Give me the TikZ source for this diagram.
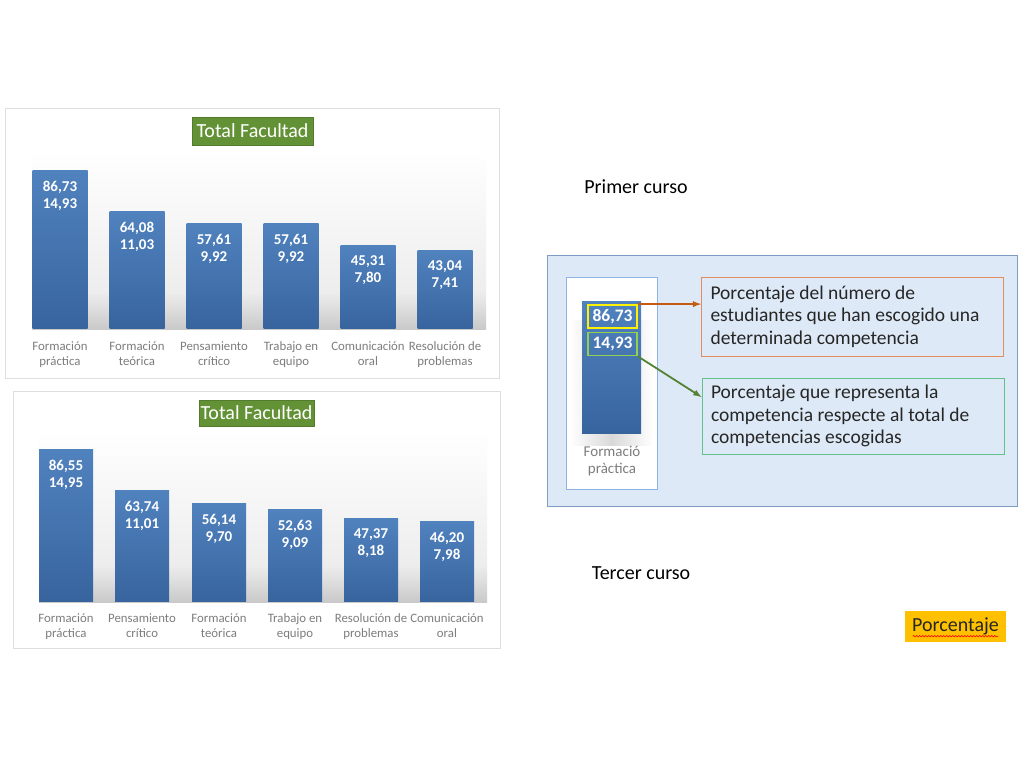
\documentclass[tikz,border=0pt]{standalone}
\usepackage{fontspec}
\setmainfont{Carlito}
\usetikzlibrary{positioning,decorations.pathmorphing}
\definecolor{barTop}{RGB}{80,130,190}
\definecolor{barBottom}{RGB}{56,100,158}
\definecolor{titleGreen}{RGB}{99,146,54}
\definecolor{catGray}{RGB}{125,125,125}
\definecolor{legendBg}{RGB}{221,233,246}
\definecolor{legendLine}{RGB}{127,156,196}
\definecolor{innerLine}{RGB}{141,180,226}
\definecolor{orangeLine}{RGB}{228,140,95}
\definecolor{orangeArrow}{RGB}{197,90,17}
\definecolor{greenLine}{RGB}{97,194,139}
\definecolor{greenArrow}{RGB}{84,130,53}
\definecolor{markGreen}{RGB}{146,208,80}
\definecolor{pctOrange}{RGB}{255,192,0}
\tikzset{
  panel/.style    = {draw=gray!25, fill=white, line width=0.8pt},
  title/.style    = {shape=rectangle, fill=titleGreen, draw=titleGreen!85!black,
                     text=white, font=\fontsize{20}{24}\selectfont, inner sep=0pt},
  bar/.style      = {shape=rectangle, top color=barTop, bottom color=barBottom,
                     minimum width=55pt, inner sep=0pt},
  val/.style      = {text=white, font=\bfseries\fontsize{15}{17}\selectfont,
                     align=flush center, inner sep=0pt},
  cat/.style      = {text=catGray, font=\fontsize{12.8}{15.5}\selectfont,
                     align=flush center, inner sep=0pt},
  course/.style   = {font=\fontsize{20}{24}\selectfont, inner sep=0pt},
  explain/.style  = {shape=rectangle, draw, line width=1pt, fill=legendBg,
                     align=flush left, text width=284pt, inner xsep=9pt,
                     font=\fontsize{19.5}{22.5}\selectfont, text=black!85},
  markbox/.style  = {shape=rectangle, line width=1.8pt, minimum width=49pt,
                     minimum height=23pt, inner sep=0pt, text=white,
                     font=\bfseries\fontsize{17.5}{20}\selectfont}
}
\begin{document}
\begin{tikzpicture}[x=1pt, y=-1pt]
  \useasboundingbox (0,0) rectangle (1024,768);

  % first chart
  \draw[panel] (5,108) rectangle (499,378);
  \fill[top color=white, bottom color=gray!14] (32,150) rectangle (486,292);
  \fill[top color=gray!14, bottom color=gray!42] (32,292) rectangle (486,329);
  \node[title, minimum width=121pt, minimum height=28pt] (t1) at (252.5,131) {Total Facultad};

  \node[bar, minimum height=158pt, anchor=south] (a1) at (60,329) {};
  \node[bar, minimum height=117pt, anchor=south] (a2) at (137,329) {};
  \node[bar, minimum height=105pt, anchor=south] (a3) at (214,329) {};
  \node[bar, minimum height=105pt, anchor=south] (a4) at (291,329) {};
  \node[bar, minimum height=83pt, anchor=south] (a5) at (368,329) {};
  \node[bar, minimum height=78pt, anchor=south] (a6) at (445,329) {};

  \node[val, below=10pt of a1.north] {86,73\\14,93};
  \node[val, below=10pt of a2.north] {64,08\\11,03};
  \node[val, below=10pt of a3.north] {57,61\\9,92};
  \node[val, below=10pt of a4.north] {57,61\\9,92};
  \node[val, below=10pt of a5.north] {45,31\\7,80};
  \node[val, below=10pt of a6.north] {43,04\\7,41};

  \node[cat, below=12pt of a1.south] {Formación\\práctica};
  \node[cat, below=12pt of a2.south] {Formación\\teórica};
  \node[cat, below=12pt of a3.south] {Pensamiento\\crítico};
  \node[cat, below=12pt of a4.south] {Trabajo en\\equipo};
  \node[cat, below=12pt of a5.south] {Comunicación\\oral};
  \node[cat, below=12pt of a6.south] {Resolución de\\problemas};

  % second chart
  \draw[panel] (13,391) rectangle (500,648);
  \fill[top color=white, bottom color=gray!14] (39,430) rectangle (487,565);
  \fill[top color=gray!14, bottom color=gray!42] (39,565) rectangle (487,602);
  \node[title, minimum width=115pt, minimum height=26pt] (t2) at (256.5,413) {Total Facultad};

  \node[bar, minimum width=54pt, minimum height=152pt, anchor=south] (b1) at (66,602) {};
  \node[bar, minimum width=54pt, minimum height=111pt, anchor=south] (b2) at (142,602) {};
  \node[bar, minimum width=54pt, minimum height=98pt, anchor=south] (b3) at (219,602) {};
  \node[bar, minimum width=54pt, minimum height=92pt, anchor=south] (b4) at (295,602) {};
  \node[bar, minimum width=54pt, minimum height=83pt, anchor=south] (b5) at (371,602) {};
  \node[bar, minimum width=54pt, minimum height=80pt, anchor=south] (b6) at (447,602) {};

  \node[val, below=10pt of b1.north] {86,55\\14,95};
  \node[val, below=10pt of b2.north] {63,74\\11,01};
  \node[val, below=10pt of b3.north] {56,14\\9,70};
  \node[val, below=10pt of b4.north] {52,63\\9,09};
  \node[val, below=10pt of b5.north] {47,37\\8,18};
  \node[val, below=10pt of b6.north] {46,20\\7,98};

  \node[cat, below=11pt of b1.south] {Formación\\práctica};
  \node[cat, below=11pt of b2.south] {Pensamiento\\crítico};
  \node[cat, below=11pt of b3.south] {Formación\\teórica};
  \node[cat, below=11pt of b4.south] {Trabajo en\\equipo};
  \node[cat, below=11pt of b5.south] {Resolución de\\problemas};
  \node[cat, below=11pt of b6.south] {Comunicación\\oral};

  % courses
  \node[course] (first) at (636,187) {Primer curso};
  \node[course] (third) at (641,573) {Tercer curso};

  % legend
  \draw[fill=legendBg, draw=legendLine, line width=1pt] (547,255) rectangle (1017,506);
  \draw[fill=white, draw=innerLine, line width=1pt] (566,277) rectangle (657,489);
  \fill[left color=white, right color=white, middle color=gray!30] (570,320) rectangle (653,445);
  \node[bar, minimum width=59pt, minimum height=132pt, anchor=north] (lb) at (611.5,301) {};
  \node[markbox, draw=yellow] (y86) at (612.5,316.5) {86,73};
  \node[markbox, draw=markGreen] (g14) at (612.5,344) {14,93};
  \node[cat, font=\fontsize{15}{17.5}\selectfont] (lcat) at (612,461) {Formació\\pràctica};

  \node[explain, draw=orangeLine, minimum height=79pt] (ob) at (852.5,316.5)
    {Porcentaje del número de\\estudiantes que han escogido una\\determinada competencia};
  \node[explain, draw=greenLine, minimum height=76pt] (gb) at (853,416)
    {Porcentaje que representa la\\competencia respecte al total de\\competencias escogidas};

  \draw[-latex, orangeArrow, line width=1.8pt] (y86.north east) -- (y86.north east -| ob.west);
  \draw[-latex, greenArrow, line width=1.8pt] (g14.south east) -- ([yshift=19pt]gb.west);

  % tag
  \node[fill=pctOrange, minimum width=101pt, minimum height=31pt, inner sep=0pt,
        font=\fontsize{20}{24}\selectfont, text=black!85] (pc) at (955.5,626.5) {Porcentaje};
  \draw[red, line width=0.6pt, decorate, decoration={snake, amplitude=0.8pt, segment length=3pt}]
    ([xshift=8pt,yshift=6pt]pc.south west) -- ([xshift=-8pt,yshift=6pt]pc.south east);
\end{tikzpicture}
\end{document}
